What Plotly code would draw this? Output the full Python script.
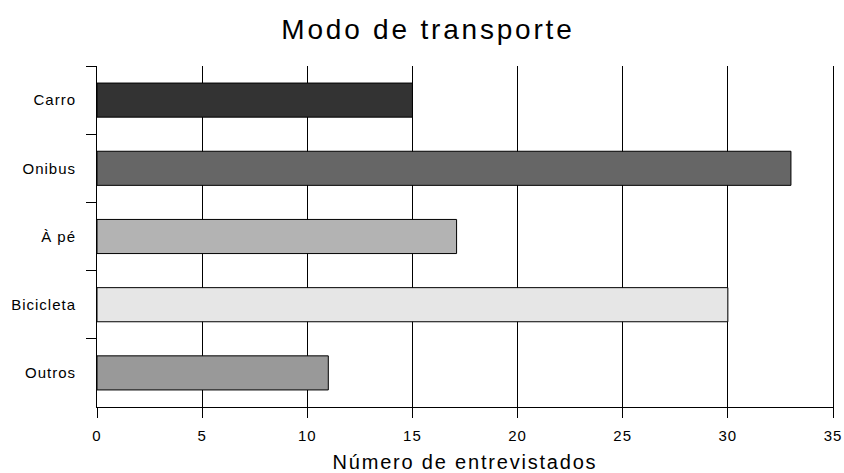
import plotly.graph_objects as go

categories = ["Carro", "Onibus", "À pé", "Bicicleta", "Outros"]
values = [15, 33, 17.1, 30, 11]
bar_colors = ["#333333", "#666666", "#b3b3b3", "#e6e6e6", "#999999"]
x_ticks = [0, 5, 10, 15, 20, 25, 30, 35]

FONT = "Liberation Sans, Arial, sans-serif"

fig = go.Figure(
    go.Bar(
        y=categories,
        x=values,
        orientation="h",
        marker=dict(color=bar_colors, line=dict(color="#000000", width=1)),
        width=0.5,
        hoverinfo="x+y",
    )
)

fig.update_layout(
    width=844,
    height=473,
    margin=dict(l=97, r=11, t=66, b=66, autoexpand=False),
    paper_bgcolor="white",
    plot_bgcolor="white",
    showlegend=False,
    font=dict(family=FONT, color="#000000"),
    title=dict(
        text="Modo de transporte",
        x=0.507,
        xanchor="center",
        y=1 - 29 / 473,
        yanchor="middle",
        font=dict(size=28, family=FONT, color="#000000"),
    ),
)

fig.update_xaxes(
    range=[0, 35],
    tickvals=x_ticks,
    ticktext=[str(t) for t in x_ticks],
    showgrid=True,
    gridcolor="#000000",
    gridwidth=1,
    showline=True,
    linecolor="#000000",
    linewidth=1,
    ticks="outside",
    ticklen=10,
    tickcolor="#000000",
    tickfont=dict(size=15, family=FONT, color="#000000"),
    ticklabelstandoff=5,
    zeroline=False,
    automargin=False,
    title=dict(text="Número de entrevistados", font=dict(size=20, family=FONT, color="#000000"), standoff=12),
)

fig.update_yaxes(
    categoryorder="array",
    categoryarray=categories,
    autorange="reversed",
    showgrid=False,
    showline=True,
    mirror=True,
    linecolor="#000000",
    linewidth=1,
    ticks="outside",
    tickson="boundaries",
    ticklen=10,
    tickcolor="#000000",
    tickfont=dict(size=15, family=FONT, color="#000000"),
    ticklabelstandoff=17,
    zeroline=False,
    automargin=False,
)

post = """
(function(){
  document.body.style.margin = '0';
  document.body.style.padding = '0';
  var gd = document.getElementById('{plot_id}');
  function sp(sel, v){ gd.querySelectorAll(sel).forEach(function(e){ e.style.letterSpacing = v; }); }
  sp('.gtitle', '2.8px');
  sp('.xtitle', '1.8px');
  sp('.xtick text', '1px');
  sp('.ytick text', '1px');
})();
"""

fig.write_html("out.html", post_script=post, config={"displayModeBar": False})
